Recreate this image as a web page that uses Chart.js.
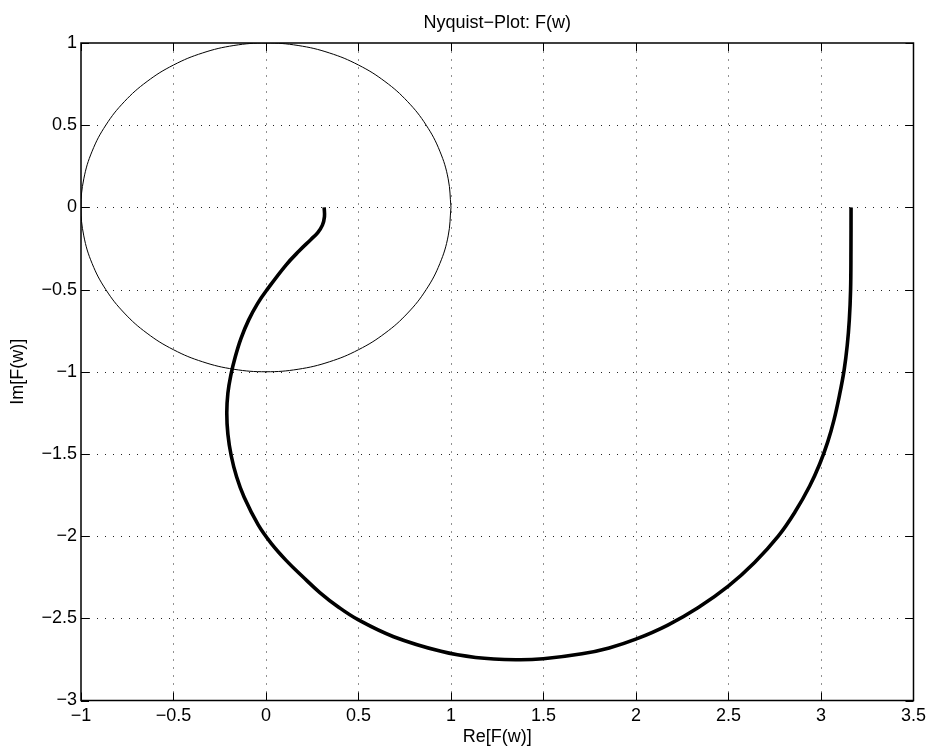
<!DOCTYPE html>
<html>
<head>
<meta charset="utf-8">
<title>Nyquist−Plot: F(w)</title>
<script src="https://cdn.jsdelivr.net/npm/chart.js@4/dist/chart.umd.min.js"></script>
<style>
  html, body { margin: 0; padding: 0; background: #fff; }
  #wrap { width: 931px; height: 754px; }
</style>
</head>
<body>
<div id="wrap"><canvas id="nyq" width="931" height="754"></canvas></div>
<script>
// Frequency response locus F(w): real and imaginary parts along the curve
const nyqRe = [0.3145, 0.316, 0.305, 0.28, 0.243, 0.18, 0.108, 0.005, -0.045, -0.094,
  -0.135, -0.166, -0.19, -0.206, -0.212, -0.206, -0.188, -0.159, -0.118, -0.042,
  0.028, 0.11, 0.199, 0.291, 0.391, 0.5, 0.69, 0.946, 1.133, 1.35,
  1.499, 1.708, 1.855, 1.999, 2.172, 2.337, 2.499, 2.641, 2.769, 2.86,
  2.939, 2.993, 3.036, 3.07, 3.1, 3.125, 3.142, 3.153, 3.16, 3.162, 3.1625];
const nyqIm = [0, -0.057, -0.108, -0.153, -0.195, -0.264, -0.351, -0.502, -0.584, -0.686,
  -0.797, -0.909, -1.02, -1.13, -1.25, -1.38, -1.511, -1.639, -1.764, -1.932,
  -2.044, -2.149, -2.247, -2.343, -2.431, -2.51, -2.612, -2.701, -2.738, -2.752,
  -2.746, -2.716, -2.68, -2.627, -2.541, -2.434, -2.304, -2.16, -2.0, -1.852,
  -1.695, -1.561, -1.428, -1.294, -1.142, -0.99, -0.838, -0.686, -0.503, -0.26, 0];

// Unit circle, sampled every 10 degrees
const circleRe = [1, 0.9848, 0.9397, 0.866, 0.766, 0.6428, 0.5, 0.342, 0.1736, 0,
  -0.1736, -0.342, -0.5, -0.6428, -0.766, -0.866, -0.9397, -0.9848, -1,
  -0.9848, -0.9397, -0.866, -0.766, -0.6428, -0.5, -0.342, -0.1736, 0,
  0.1736, 0.342, 0.5, 0.6428, 0.766, 0.866, 0.9397, 0.9848, 1];
const circleIm = [0, 0.1736, 0.342, 0.5, 0.6428, 0.766, 0.866, 0.9397, 0.9848, 1,
  0.9848, 0.9397, 0.866, 0.766, 0.6428, 0.5, 0.342, 0.1736, 0,
  -0.1736, -0.342, -0.5, -0.6428, -0.766, -0.866, -0.9397, -0.9848, -1,
  -0.9848, -0.9397, -0.866, -0.766, -0.6428, -0.5, -0.342, -0.1736, 0];

// Axis ticks
const xTicks = [-1, -0.5, 0, 0.5, 1, 1.5, 2, 2.5, 3, 3.5];
const yTicks = [-3, -2.5, -2, -1.5, -1, -0.5, 0, 0.5, 1];

const titleText = 'Nyquist\u2212Plot: F(w)';
const xTitle = 'Re[F(w)]';
const yTitle = 'Im[F(w)]';

const FONT = "'Liberation Sans', Arial, Helvetica, sans-serif";
const FSIZE = 18;

const toPoints = (re, im) => re.map((v, i) => ({ x: v, y: im[i] }));
const fmt = v => (v < 0 ? '\u2212' : '') + String(Math.abs(v));

// Dotted grid, boxed frame with inward ticks, and the plot title
const framePlugin = {
  id: 'frame',
  beforeDatasetsDraw(chart) {
    const { ctx, chartArea: a, scales: { x, y } } = chart;
    ctx.save();
    ctx.strokeStyle = '#222';
    ctx.lineWidth = 1;
    ctx.setLineDash([1, 7]);
    xTicks.forEach(v => {
      const px = Math.round(x.getPixelForValue(v)) + 0.5;
      if (px < a.left + 2 || px > a.right - 2) return;
      ctx.beginPath(); ctx.moveTo(px, a.bottom); ctx.lineTo(px, a.top); ctx.stroke();
    });
    yTicks.forEach(v => {
      const py = Math.round(y.getPixelForValue(v)) + 0.5;
      if (py < a.top + 2 || py > a.bottom - 2) return;
      ctx.beginPath(); ctx.moveTo(a.left, py); ctx.lineTo(a.right, py); ctx.stroke();
    });
    ctx.restore();
  },
  afterDatasetsDraw(chart) {
    const { ctx, chartArea: a, scales: { x, y } } = chart;
    const tl = 8;
    ctx.save();
    ctx.strokeStyle = '#000';
    ctx.lineWidth = 1;
    xTicks.forEach(v => {
      const px = Math.round(x.getPixelForValue(v)) + 0.5;
      ctx.beginPath();
      ctx.moveTo(px, a.bottom); ctx.lineTo(px, a.bottom - tl);
      ctx.moveTo(px, a.top); ctx.lineTo(px, a.top + tl);
      ctx.stroke();
    });
    yTicks.forEach(v => {
      const py = Math.round(y.getPixelForValue(v)) + 0.5;
      ctx.beginPath();
      ctx.moveTo(a.left, py); ctx.lineTo(a.left + tl, py);
      ctx.moveTo(a.right, py); ctx.lineTo(a.right - tl, py);
      ctx.stroke();
    });
    ctx.lineWidth = 1.5;
    ctx.strokeRect(a.left, a.top, a.right - a.left, a.bottom - a.top);
    ctx.restore();
  },
  afterDraw(chart) {
    const { ctx, chartArea: a } = chart;
    ctx.save();
    ctx.fillStyle = '#000';
    ctx.font = FSIZE + 'px ' + FONT;
    ctx.textAlign = 'center';
    ctx.textBaseline = 'alphabetic';
    ctx.fillText(titleText, (a.left + a.right) / 2, 27.5);
    ctx.restore();
  }
};

new Chart(document.getElementById('nyq'), {
  type: 'scatter',
  data: {
    datasets: [
      {
        label: 'F(w)',
        data: toPoints(nyqRe, nyqIm),
        showLine: true,
        borderColor: '#000',
        borderWidth: 3.6,
        pointRadius: 0,
        tension: 0.4,
        borderCapStyle: 'butt',
        borderJoinStyle: 'round'
      },
      {
        label: 'unit circle',
        data: toPoints(circleRe, circleIm),
        showLine: true,
        borderColor: '#000',
        borderWidth: 1,
        pointRadius: 0,
        tension: 0.4
      }
    ]
  },
  options: {
    responsive: false,
    animation: false,
    devicePixelRatio: 1,
    layout: { padding: { top: 43, right: 16, bottom: 0, left: 0 } },
    plugins: {
      legend: { display: false },
      tooltip: { enabled: false },
      title: { display: false }
    },
    scales: {
      x: {
        type: 'linear',
        min: -1, max: 3.5,
        afterBuildTicks: s => { s.ticks = xTicks.map(v => ({ value: v })); },
        afterFit: s => { s.height = 53.5; },
        grid: { display: false, drawTicks: false },
        border: { display: false },
        ticks: {
          autoSkip: false, maxRotation: 0, padding: 5,
          color: '#000', font: { family: FONT, size: FSIZE },
          callback: v => fmt(v)
        },
        title: {
          display: true, text: xTitle, color: '#000',
          font: { family: FONT, size: FSIZE },
          padding: { top: 0, bottom: 6 }
        }
      },
      y: {
        type: 'linear',
        min: -3, max: 1,
        afterBuildTicks: s => { s.ticks = yTicks.map(v => ({ value: v })); },
        afterFit: s => { s.width = 81; },
        grid: { display: false, drawTicks: false },
        border: { display: false },
        ticks: {
          autoSkip: false, padding: 4,
          color: '#000', font: { family: FONT, size: FSIZE },
          callback: v => fmt(v)
        },
        title: {
          display: true, text: yTitle, color: '#000',
          font: { family: FONT, size: FSIZE },
          padding: { top: 7, bottom: 7 }
        }
      }
    }
  },
  plugins: [framePlugin]
});
</script>
</body>
</html>
